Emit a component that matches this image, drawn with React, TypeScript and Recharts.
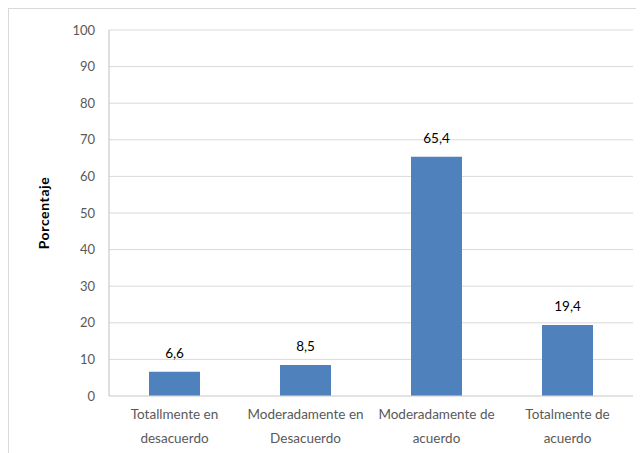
import { BarChart, Bar, XAxis, YAxis, CartesianGrid, LabelList } from 'recharts'

const categories = ['Totallmente en|desacuerdo', 'Moderadamente en|Desacuerdo', 'Moderadamente de|acuerdo', 'Totalmente de|acuerdo']
const values = [6.6, 8.5, 65.4, 19.4]
const yTicks = [0, 10, 20, 30, 40, 50, 60, 70, 80, 90, 100]

const data = categories.map((c, i) => ({ name: c, value: values[i] }))

const FONT = 'Lato, "Open Sans", sans-serif'

function CatTick({ x, y, payload }: any) {
  const lines = String(payload.value).split('|')
  return (
    <text x={x} y={y} textAnchor="middle" fill="#595959" fontSize={13.5} fontFamily={FONT}>
      {lines.map((l, i) => (
        <tspan key={i} x={x} dy={i === 0 ? 15 : 24}>{l}</tspan>
      ))}
    </text>
  )
}

export default function App() {
  return (
    <div style={{ position: 'relative', width: 636, height: 460, border: '1px solid #d9d9d9', background: '#fff', boxSizing: 'border-box' }}>
      <BarChart width={634} height={450} data={data} margin={{ top: 21, right: 10, bottom: 0, left: 0 }}>
        <CartesianGrid vertical={false} stroke="#d9d9d9" />
        <XAxis
          dataKey="name"
          height={63}
          axisLine={{ stroke: '#d9d9d9' }}
          tickLine={false}
          tick={<CatTick />}
          interval={0}
        />
        <YAxis
          width={100}
          domain={[0, 100]}
          ticks={yTicks}
          axisLine={{ stroke: '#bfbfbf' }}
          tickLine={false}
          tick={{ fill: '#595959', fontSize: 13, fontFamily: FONT }}
          tickMargin={8}
          label={({ viewBox }: any) => (
            <text
              x={34}
              y={viewBox.y + viewBox.height / 2}
              transform={`rotate(-90, 34, ${viewBox.y + viewBox.height / 2})`}
              textAnchor="middle"
              dominantBaseline="central"
              fontWeight="bold"
              fontSize={14}
              letterSpacing={0.6}
              fill="#000"
              fontFamily={FONT}
            >
              Porcentaje
            </text>
          )}
        />
        <Bar dataKey="value" fill="#4f81bd" barSize={51} isAnimationActive={false}>
          <LabelList
            dataKey="value"
            position="top"
            offset={14}
            fill="#000"
            fontSize={13.5}
            fontFamily={FONT}
            formatter={(v: any) => String(v).replace('.', ',')}
          />
        </Bar>
      </BarChart>
    </div>
  )
}
